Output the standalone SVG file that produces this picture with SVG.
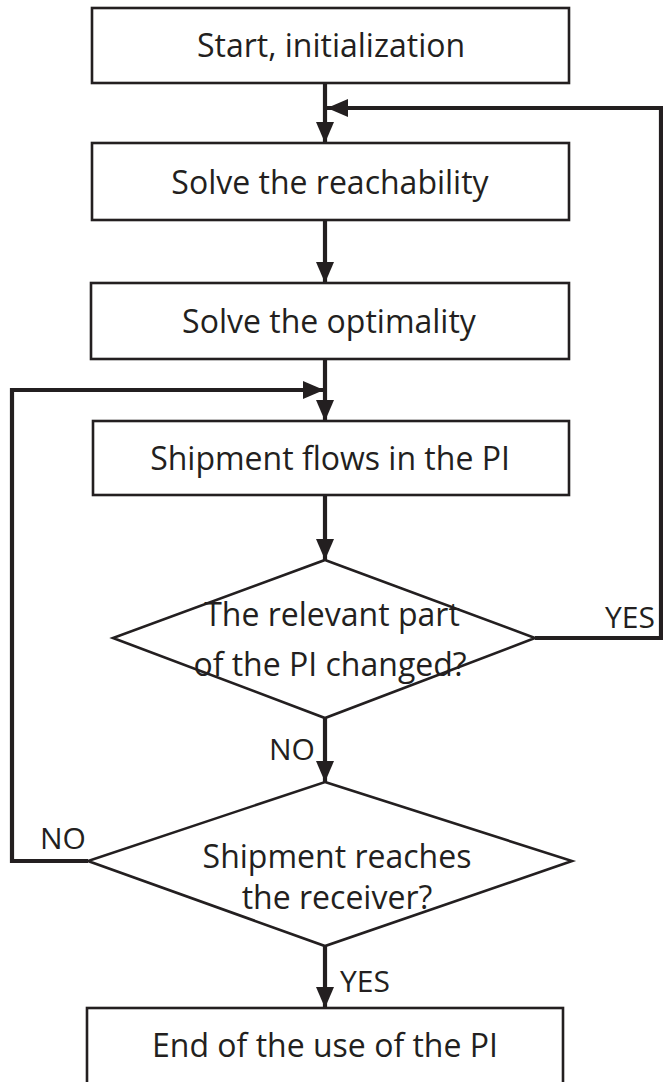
<svg xmlns="http://www.w3.org/2000/svg" width="663" height="1082" viewBox="0 0 663 1082">
<style>
.box{fill:#fff;stroke:#231f20;stroke-width:2.6}
.t{font-family:"Open Sans","Liberation Sans",sans-serif;font-size:32px;fill:#231f20;text-anchor:middle}
.lbl{font-family:"Open Sans","Liberation Sans",sans-serif;font-size:30px;fill:#231f20}
.c{fill:none;stroke:#231f20;stroke-width:4.2}
</style>
<defs>
<marker id="ah" markerUnits="userSpaceOnUse" markerWidth="22" markerHeight="20" viewBox="0 0 22 20" refX="21" refY="10" orient="auto">
<path d="M0,1 L21,10 L0,19 Z" fill="#231f20"/>
</marker>
</defs>
<rect width="663" height="1082" fill="#fff"/>
<g id="connectors">
<path class="c" d="M325,83 V143" marker-end="url(#ah)"/>
<path class="c" d="M535,638 H661 V108 H327" marker-end="url(#ah)"/>
<path class="c" d="M325,220 V283" marker-end="url(#ah)"/>
<path class="c" d="M325,359 V421" marker-end="url(#ah)"/>
<path class="c" d="M88,861 H12 V390 H324" marker-end="url(#ah)"/>
<path class="c" d="M325,495 V560" marker-end="url(#ah)"/>
<path class="c" d="M325,718 V782" marker-end="url(#ah)"/>
<path class="c" d="M325,946 V1008" marker-end="url(#ah)"/>
<text class="lbl" x="605" y="628">YES</text>
<text class="lbl" x="269" y="760">NO</text>
<text class="lbl" x="40" y="849">NO</text>
<text class="lbl" x="340" y="992">YES</text>
</g>
<g id="start">
<rect class="box" x="92" y="8" width="477" height="75"/>
<text class="t" x="331" y="57">Start, initialization</text>
</g>
<g id="reachability">
<rect class="box" x="92" y="143" width="477" height="77"/>
<text class="t" x="330" y="194">Solve the reachability</text>
</g>
<g id="optimality">
<rect class="box" x="91" y="283" width="478" height="76"/>
<text class="t" x="329" y="333">Solve the optimality</text>
</g>
<g id="shipment-flows">
<rect class="box" x="93" y="421" width="476" height="74"/>
<text class="t" x="330" y="470">Shipment flows in the PI</text>
</g>
<g id="pi-changed">
<polygon class="box" points="325,560 535,638 325,718 113,638"/>
<text class="t" x="332" y="626">The relevant part</text>
<text class="t" x="330" y="676">of the PI changed?</text>
</g>
<g id="reaches-receiver">
<polygon class="box" points="325,782 572,861 325,946 88,861"/>
<text class="t" x="337" y="868">Shipment reaches</text>
<text class="t" x="337" y="909">the receiver?</text>
</g>
<g id="end">
<rect class="box" x="87" y="1008" width="476" height="90"/>
<text class="t" x="325" y="1057">End of the use of the PI</text>
</g>
</svg>
